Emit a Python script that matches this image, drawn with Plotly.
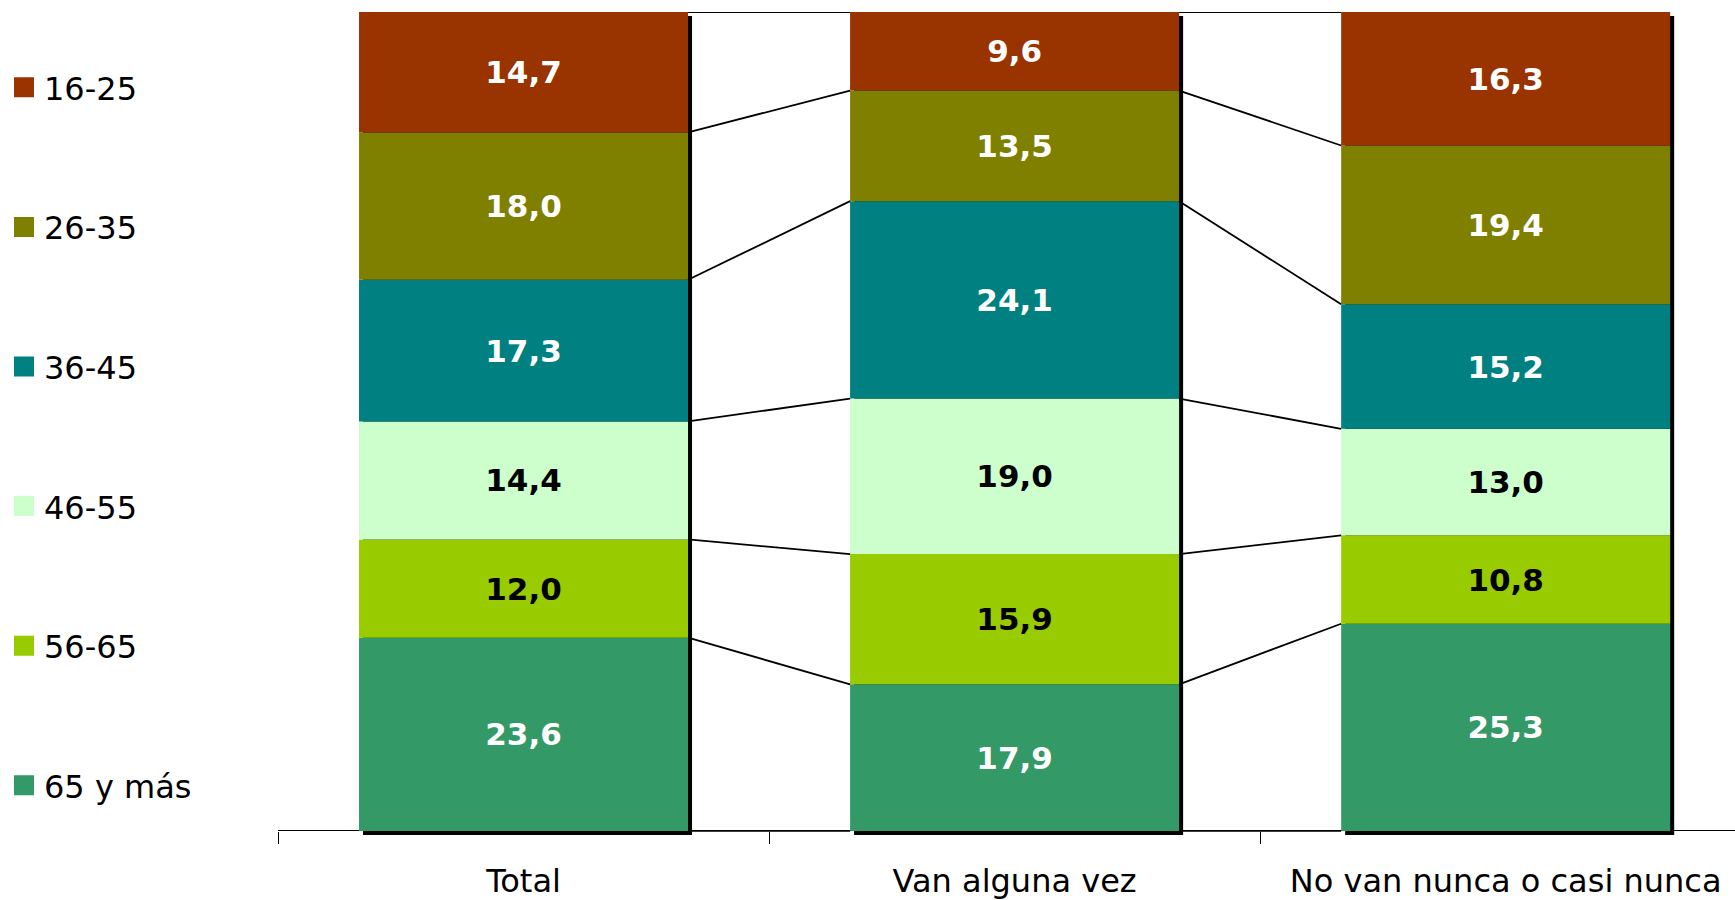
import plotly.graph_objects as go
import numpy as np

categories = ["Total", "Van alguna vez", "No van nunca o casi nunca"]
# bottom to top
series_names = ["65 y más", "56-65", "46-55", "36-45", "26-35", "16-25"]
v_65 = [23.6, 17.9, 25.3]
v_56 = [12.0, 15.9, 10.8]
v_46 = [14.4, 19.0, 13.0]
v_36 = [17.3, 24.1, 15.2]
v_26 = [18.0, 13.5, 19.4]
v_16 = [14.7, 9.6, 16.3]
series_values = [v_65, v_56, v_46, v_36, v_26, v_16]
colors = ["#339966", "#99CC00", "#CCFFCC", "#008080", "#808000", "#993300"]
text_colors = ["white", "black", "black", "white", "white", "white"]

FONT = "DejaVu Sans"
W, H = 1735, 900
ML, MR, MT, MB = 278, 0, 12, 63
Y0, Y1 = -0.5, 100.0
XEND = 2.467
bar_w = 0.67
plot_h = H - MT - MB
plot_w = W - ML - MR
px_y = plot_h / (Y1 - Y0)
px_x = plot_w / (XEND + 0.5)
sh_dx = 4 / px_x
sh_dy = 4 / px_y

xs = np.arange(len(categories))
vals = np.array(series_values)
cum = np.vstack([np.zeros(len(categories)), np.cumsum(vals, axis=0)])
totals = cum[-1]

fig = go.Figure()

# connector lines (series lines)
for k in range(cum.shape[0]):
    lx, ly = [], []
    for i in range(len(categories) - 1):
        lx += [xs[i] + bar_w / 2, xs[i + 1] - bar_w / 2, None]
        ly += [cum[k][i], cum[k][i + 1], None]
    fig.add_trace(go.Scatter(x=lx, y=ly, mode="lines", line=dict(color="black", width=1.8),
                             showlegend=False, hoverinfo="skip", xaxis="x2"))

# shadow
fig.add_trace(go.Bar(x=xs, y=totals, base=[-sh_dy] * len(xs), width=bar_w,
                     offset=-bar_w / 2 + sh_dx, marker=dict(color="black", line=dict(width=0)),
                     showlegend=False, hoverinfo="skip"))

for s, name in enumerate(series_names):
    fig.add_trace(go.Bar(
        x=xs, y=vals[s], base=cum[s], width=bar_w, name=name,
        marker=dict(color=colors[s], line=dict(width=0)),
        text=[f"{v:.1f}".replace(".", ",") for v in vals[s]],
        textposition="inside", insidetextanchor="middle", constraintext="none",
        textfont=dict(family=FONT, size=31, color=text_colors[s], weight="bold"),
        showlegend=False,
    ))

# legend entries (top to bottom)
for s in reversed(range(len(series_names))):
    fig.add_trace(go.Scatter(x=[None], y=[None], mode="markers", name=series_names[s],
                             legendgroup=series_names[s],
                             marker=dict(symbol="square", size=16, color=colors[s],
                                         line=dict(color=colors[s], width=4))))

fig.update_layout(
    width=W, height=H,
    margin=dict(l=ML, r=MR, t=MT, b=MB),
    paper_bgcolor="white", plot_bgcolor="white",
    barmode="overlay",
    font=dict(family=FONT, color="black"),
    showlegend=True,
    legend=dict(xref="container", yref="container", x=4 / W, y=1 - 60 / H,
                xanchor="left", yanchor="top", traceorder="grouped",
                tracegroupgap=95, maxheight=880,
                font=dict(size=32, family=FONT, color="black"),
                bgcolor="rgba(0,0,0,0)", itemwidth=30),
    xaxis=dict(range=[-0.5, XEND], tickvals=list(xs), ticktext=categories, ticks="",
               showline=False, showgrid=False, zeroline=False, ticklabelstandoff=24,
               tickfont=dict(size=32, family=FONT, color="black")),
    xaxis2=dict(range=[-0.5, XEND], overlaying="x", anchor="free", position=4 / plot_h,
                side="bottom", tickvals=[-0.5, 0.5, 1.5], ticks="outside", ticklen=12,
                tickcolor="black", tickwidth=1, showticklabels=False, showline=False,
                showgrid=False, zeroline=False),
    yaxis=dict(range=[Y0, Y1], showgrid=False, showticklabels=False, showline=False,
               zeroline=True, zerolinecolor="black", zerolinewidth=1),
)

fig.write_html("out.html", config={"displayModeBar": False},
               post_script="document.body.style.margin='0';")
